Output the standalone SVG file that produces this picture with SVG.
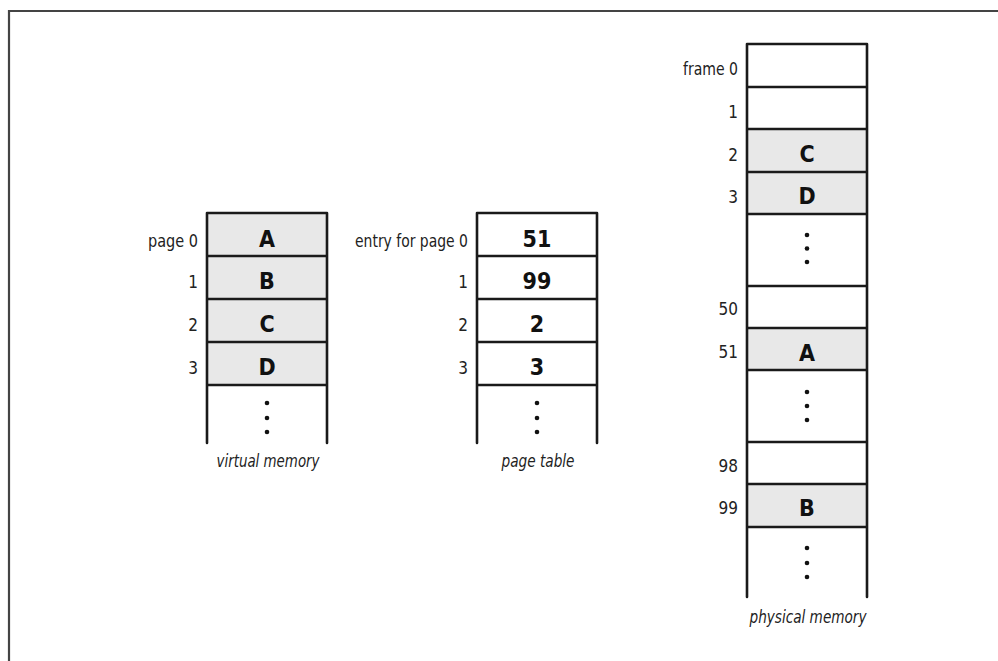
<svg xmlns="http://www.w3.org/2000/svg" width="998" height="661" viewBox="0 0 998 661">
<style>
.frame{fill:none;stroke:#444;stroke-width:2.2}
.ol{fill:none;stroke:#1a1a1a;stroke-width:2.6;stroke-linejoin:round;stroke-linecap:round}
.sep{stroke:#1a1a1a;stroke-width:2.6}
.g{fill:#e8e8e8}
.w{fill:#fff}
.lbl{font-family:"DejaVu Sans Condensed","DejaVu Sans",sans-serif;font-stretch:condensed;font-size:17px;fill:#222;text-anchor:end}
.val{font-family:"DejaVu Sans Condensed","DejaVu Sans",sans-serif;font-stretch:condensed;font-weight:bold;font-size:23px;fill:#111;text-anchor:middle}
.cap{font-family:"DejaVu Sans Condensed","DejaVu Sans",sans-serif;font-stretch:condensed;font-style:italic;font-size:17px;fill:#222;text-anchor:middle}
.dot{fill:#111}
</style>
<rect x="0" y="0" width="998" height="661" fill="#fff"/>
<path class="frame" d="M9,661 V11 H998"/>

<!-- Virtual memory -->
<g id="virtual-memory">
  <rect class="g" x="207" y="213" width="120" height="172"/>
  <g id="vm-page0"><text class="lbl" x="198" y="247" textLength="50" lengthAdjust="spacingAndGlyphs">page 0</text><text class="val" x="267" y="247">A</text></g>
  <g id="vm-page1"><text class="lbl" x="198" y="288">1</text><text class="val" x="267" y="289">B</text></g>
  <g id="vm-page2"><text class="lbl" x="198" y="331">2</text><text class="val" x="267" y="332">C</text></g>
  <g id="vm-page3"><text class="lbl" x="198" y="374">3</text><text class="val" x="267" y="375">D</text></g>
  <g id="vm-more"><circle class="dot" cx="267" cy="403" r="2.3"/><circle class="dot" cx="267" cy="418" r="2.3"/><circle class="dot" cx="267" cy="432" r="2.3"/></g>
  <line class="sep" x1="207" y1="256" x2="327" y2="256"/>
  <line class="sep" x1="207" y1="299" x2="327" y2="299"/>
  <line class="sep" x1="207" y1="342" x2="327" y2="342"/>
  <line class="sep" x1="207" y1="385" x2="327" y2="385"/>
  <path class="ol" d="M207,443 V213 H327 V443"/>
  <text class="cap" x="268" y="467" textLength="103" lengthAdjust="spacingAndGlyphs">virtual memory</text>
</g>

<!-- Page table -->
<g id="page-table">
  <rect class="w" x="477" y="213" width="120" height="230"/>
  <g id="pt-entry0"><text class="lbl" x="468" y="247" textLength="113" lengthAdjust="spacingAndGlyphs">entry for page 0</text><text class="val" x="537" y="247">51</text></g>
  <g id="pt-entry1"><text class="lbl" x="468" y="288">1</text><text class="val" x="537" y="289">99</text></g>
  <g id="pt-entry2"><text class="lbl" x="468" y="331">2</text><text class="val" x="537" y="332">2</text></g>
  <g id="pt-entry3"><text class="lbl" x="468" y="374">3</text><text class="val" x="537" y="375">3</text></g>
  <g id="pt-more"><circle class="dot" cx="537" cy="403" r="2.3"/><circle class="dot" cx="537" cy="418" r="2.3"/><circle class="dot" cx="537" cy="432" r="2.3"/></g>
  <line class="sep" x1="477" y1="256" x2="597" y2="256"/>
  <line class="sep" x1="477" y1="299" x2="597" y2="299"/>
  <line class="sep" x1="477" y1="342" x2="597" y2="342"/>
  <line class="sep" x1="477" y1="385" x2="597" y2="385"/>
  <path class="ol" d="M477,443 V213 H597 V443"/>
  <text class="cap" x="538" y="467" textLength="73" lengthAdjust="spacingAndGlyphs">page table</text>
</g>

<!-- Physical memory -->
<g id="physical-memory">
  <rect class="g" x="747" y="129" width="120" height="85"/>
  <rect class="g" x="747" y="328" width="120" height="42"/>
  <rect class="g" x="747" y="484" width="120" height="43"/>
  <g id="pm-frame0"><text class="lbl" x="738" y="75" textLength="55" lengthAdjust="spacingAndGlyphs">frame 0</text></g>
  <g id="pm-frame1"><text class="lbl" x="738" y="118">1</text></g>
  <g id="pm-frame2"><text class="lbl" x="738" y="161">2</text><text class="val" x="807" y="162">C</text></g>
  <g id="pm-frame3"><text class="lbl" x="738" y="203">3</text><text class="val" x="807" y="204">D</text></g>
  <g id="pm-more1"><circle class="dot" cx="807" cy="235" r="2.3"/><circle class="dot" cx="807" cy="248.5" r="2.3"/><circle class="dot" cx="807" cy="262" r="2.3"/></g>
  <g id="pm-frame50"><text class="lbl" x="738" y="315">50</text></g>
  <g id="pm-frame51"><text class="lbl" x="738" y="358">51</text><text class="val" x="807" y="361">A</text></g>
  <g id="pm-more2"><circle class="dot" cx="807" cy="392" r="2.3"/><circle class="dot" cx="807" cy="406" r="2.3"/><circle class="dot" cx="807" cy="420" r="2.3"/></g>
  <g id="pm-frame98"><text class="lbl" x="738" y="472">98</text></g>
  <g id="pm-frame99"><text class="lbl" x="738" y="514">99</text><text class="val" x="807" y="516">B</text></g>
  <g id="pm-more3"><circle class="dot" cx="807" cy="548" r="2.3"/><circle class="dot" cx="807" cy="563" r="2.3"/><circle class="dot" cx="807" cy="577" r="2.3"/></g>
  <line class="sep" x1="747" y1="87" x2="867" y2="87"/>
  <line class="sep" x1="747" y1="129" x2="867" y2="129"/>
  <line class="sep" x1="747" y1="172" x2="867" y2="172"/>
  <line class="sep" x1="747" y1="214" x2="867" y2="214"/>
  <line class="sep" x1="747" y1="286" x2="867" y2="286"/>
  <line class="sep" x1="747" y1="328" x2="867" y2="328"/>
  <line class="sep" x1="747" y1="370" x2="867" y2="370"/>
  <line class="sep" x1="747" y1="442" x2="867" y2="442"/>
  <line class="sep" x1="747" y1="484" x2="867" y2="484"/>
  <line class="sep" x1="747" y1="527" x2="867" y2="527"/>
  <path class="ol" d="M747,597 V44 H867 V597"/>
  <text class="cap" x="808" y="623" textLength="117" lengthAdjust="spacingAndGlyphs">physical memory</text>
</g>
</svg>
